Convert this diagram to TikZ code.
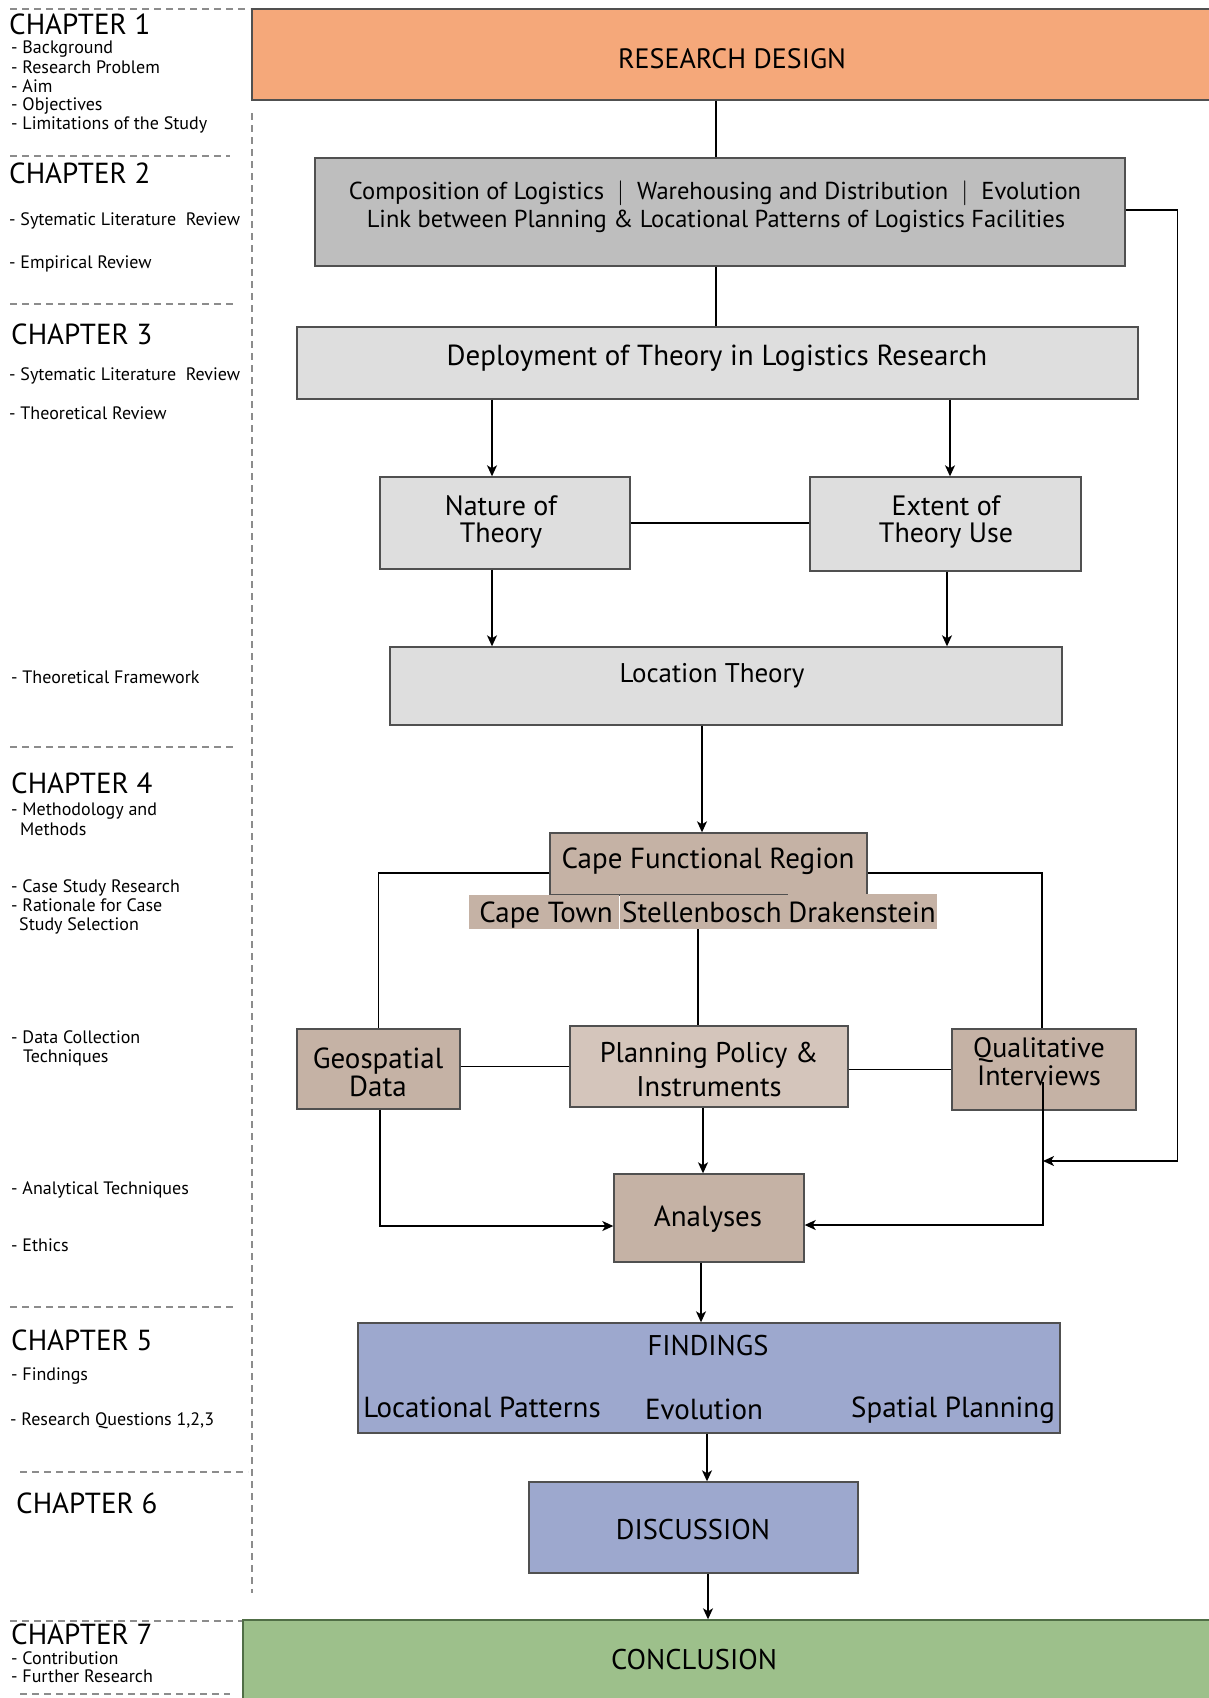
\documentclass[tikz,border=0pt]{standalone}
\usepackage{fontspec}
\setmainfont{PT Sans}
\usetikzlibrary{arrows.meta}
\definecolor{cOrange}{RGB}{245,168,122}
\definecolor{cComp}{RGB}{190,190,190}
\definecolor{cLight}{RGB}{222,222,222}
\definecolor{cTan}{RGB}{197,178,165}
\definecolor{cTanL}{RGB}{212,197,187}
\definecolor{cBlue}{RGB}{157,168,206}
\definecolor{cGreen}{RGB}{157,192,139}
\definecolor{cBorder}{RGB}{80,80,80}
\definecolor{cGBorder}{RGB}{80,110,70}
\definecolor{cDash}{RGB}{140,140,140}
\begin{document}
\begin{tikzpicture}[x=1pt,y=-1pt,
  box/.style={draw=cBorder, line width=1.4pt, inner sep=0pt, rectangle},
  subbox/.style={draw=none, inner sep=0pt, rectangle, fill=cTan},
  T/.style={inner sep=0pt, anchor=base, font=\fontsize{#1}{#1}\selectfont, yshift={-0.35*#1pt}},
  L/.style={inner sep=0pt, anchor=base west, font=\fontsize{#1}{#1}\selectfont, yshift={-0.35*#1pt}},
  conn/.style={line width=1.4pt, draw=black},
  arr/.style={conn, -{Stealth[length=11pt,width=10pt,inset=3pt]}},
  sep/.style={draw=cDash, line width=1.2pt, dash pattern=on 7pt off 5pt},
  ttl/.style={L=29},
  itm/.style={L=18}
]
\useasboundingbox (0,0) rectangle (1208,1698);
\fill[white] (0,0) rectangle (1208,1698);

% ---------- left column separators ----------
\draw[sep] (10,9) -- (250,9);
\draw[sep] (10,156) -- (230,156);
\draw[sep] (10,304) -- (235,304);
\draw[sep] (10,747) -- (233,747);
\draw[sep] (10,1307) -- (233,1307);
\draw[sep] (20,1472) -- (248,1472);
\draw[sep] (10,1621) -- (243,1621);
\draw[sep] (20,1694) -- (230,1694);
\draw[sep] (252,113) -- (252,1593);

% ---------- left column texts ----------
\node[ttl] (ch1) at (9,24) {CHAPTER 1};
\node[itm] (ch1a) at (11,47) {- Background};
\node[itm] (ch1b) at (11,67) {- Research Problem};
\node[itm] (ch1c) at (11,86) {- Aim};
\node[itm] (ch1d) at (11,104) {- Objectives};
\node[itm] (ch1e) at (11,123) {- Limitations of the Study};

\node[ttl] (ch2) at (9,173) {CHAPTER 2};
\node[itm] (ch2a) at (9,219) {- Sytematic Literature\ \ Review};
\node[itm] (ch2b) at (9,262) {- Empirical Review};

\node[ttl] (ch3) at (11,334) {CHAPTER 3};
\node[itm] (ch3a) at (9,374) {- Sytematic Literature\ \ Review};
\node[itm] (ch3b) at (9,413) {- Theoretical Review};
\node[itm] (ch3c) at (11,677) {- Theoretical Framework};

\node[ttl] (ch4) at (11,783) {CHAPTER 4};
\node[itm] (ch4a) at (11,809) {- Methodology and};
\node[itm] (ch4b) at (20,829) {Methods};
\node[itm] (ch4c) at (11,886) {- Case Study Research};
\node[itm] (ch4d) at (11,905) {- Rationale for Case};
\node[itm] (ch4e) at (19,924) {Study Selection};
\node[itm] (ch4f) at (11,1037) {- Data Collection};
\node[itm] (ch4g) at (23,1056) {Techniques};
\node[itm] (ch4h) at (11,1188) {- Analytical Techniques};
\node[itm] (ch4i) at (11,1245) {- Ethics};

\node[ttl] (ch5) at (11,1340) {CHAPTER 5};
\node[itm] (ch5a) at (11,1374) {- Findings};
\node[itm] (ch5b) at (10,1419) {- Research Questions 1,2,3};

\node[ttl] (ch6) at (16,1503) {CHAPTER 6};

\node[ttl] (ch7) at (11,1634) {CHAPTER 7};
\node[itm] (ch7a) at (11,1658) {- Contribution};
\node[itm] (ch7b) at (11,1676) {- Further Research};

% ---------- boxes ----------
\node[box, fill=cOrange, minimum width=963pt, minimum height=91pt] (rd) at (733.5,54.5) {};
\node[box, fill=cComp, minimum width=810pt, minimum height=108pt] (comp) at (720,212) {};
\node[box, fill=cLight, minimum width=841pt, minimum height=72pt] (dep) at (717.5,363) {};
\node[box, fill=cLight, minimum width=250pt, minimum height=92pt] (nat) at (505,523) {};
\node[box, fill=cLight, minimum width=271pt, minimum height=94pt] (ext) at (945.5,524) {};
\node[box, fill=cLight, minimum width=672pt, minimum height=78pt] (loc) at (726,686) {};
\node[box, fill=cTan, minimum width=317pt, minimum height=62pt] (cfr) at (708.5,864) {};
\node[subbox, minimum width=150pt, minimum height=34pt] (ct) at (543.5,912) {};
\node[subbox, minimum width=168pt, minimum height=34pt] (st) at (703.5,912) {};
\node[subbox, minimum width=149pt, minimum height=35pt] (dk) at (862.5,911.5) {};
\node[box, fill=cTan, minimum width=163pt, minimum height=80pt] (geo) at (378.5,1069) {};
\node[box, fill=cTanL, minimum width=278pt, minimum height=81pt] (plan) at (709,1066.5) {};
\node[box, fill=cTan, minimum width=184pt, minimum height=81pt] (qual) at (1044,1069.5) {};
\node[box, fill=cTan, minimum width=190pt, minimum height=88pt] (anal) at (709,1218) {};
\node[box, fill=cBlue, minimum width=702pt, minimum height=110pt] (find) at (709,1378) {};
\node[box, fill=cBlue, minimum width=329pt, minimum height=91pt] (disc) at (693.5,1527.5) {};
\node[box, draw=cGBorder, fill=cGreen, minimum width=969pt, minimum height=82pt] (concl) at (727.5,1661) {};

% ---------- box texts ----------
\node[T=28] (rdt) at (732,59) {RESEARCH DESIGN};
\node[T=24.5] (compt1) at (715,191) {Composition of Logistics \ $|$ \ Warehousing and Distribution \ $|$ \ Evolution};
\node[T=24.5] (compt2) at (716,219) {Link between Planning \& Locational Patterns of Logistics Facilities};
\node[T=29] (dept) at (717,355) {Deployment of Theory in Logistics Research};
\node[T=28] (natt1) at (501,506) {Nature of};
\node[T=28] (natt2) at (501,533) {Theory};
\node[T=28] (extt1) at (946,506) {Extent of};
\node[T=28] (extt2) at (946,533) {Theory Use};
\node[T=27] (loct) at (712,673) {Location Theory};
\node[T=29] (cfrt) at (708,858) {Cape Functional Region};
\node[T=29] (ctt) at (546,912) {Cape Town};
\node[T=29] (stt) at (702,912) {Stellenbosch};
\node[T=29] (dkt) at (862,912) {Drakenstein};
\node[T=29] (geot1) at (378,1058) {Geospatial};
\node[T=29] (geot2) at (378,1086) {Data};
\node[T=28.5] (plant1) at (709,1053) {Planning Policy \&};
\node[T=28.5] (plant2) at (709,1087) {Instruments};
\node[T=28] (qualt1) at (1039,1048) {Qualitative};
\node[T=28] (qualt2) at (1039,1076) {Interviews};
\node[T=29] (analt) at (708,1216) {Analyses};
\node[T=28.5] (findt) at (708,1346) {FINDINGS};
\node[T=29] (findt1) at (482,1407) {Locational Patterns};
\node[T=29] (findt2) at (704,1409) {Evolution};
\node[T=29] (findt3) at (953,1407) {Spatial Planning};
\node[T=28.5] (disct) at (693,1530) {DISCUSSION};
\node[T=28.5] (conclt) at (694,1660) {CONCLUSION};

% ---------- connectors ----------
\draw[conn] ([xshift=-4pt]comp.north |- rd.south) -- ([xshift=-4pt]comp.north);
\draw[conn] ([xshift=-1.5pt]dep.north |- comp.south) -- ([xshift=-1.5pt]dep.north);
\draw[arr] ([xshift=-13pt]nat.north |- dep.south) -- ([xshift=-13pt]nat.north);
\draw[arr] ([xshift=4.5pt]ext.north |- dep.south) -- ([xshift=4.5pt]ext.north);
\draw[conn] (nat.east) -- (ext.west |- nat.east);
\draw[arr] ([xshift=-13pt]nat.south) -- ([xshift=-13pt]nat.south |- loc.north);
\draw[arr] ([xshift=1.5pt]ext.south) -- ([xshift=1.5pt]ext.south |- loc.north);
\draw[arr] ([xshift=-6.5pt]cfr.north |- loc.south) -- ([xshift=-6.5pt]cfr.north);
\draw[conn] ([yshift=-9pt]cfr.west) -| (geo.north);
\draw[conn] ([yshift=-9pt]cfr.east) -| ([xshift=-2pt]qual.north);
\draw[conn] ([xshift=-5.5pt]st.south) -- ([xshift=-5.5pt]st.south |- plan.north);
\draw[conn] (geo.east |- plan.west) -- (plan.west);
\draw[conn] (plan.east |- qual.west) -- (qual.west);
\draw[arr] ([xshift=-6pt]plan.south) -- ([xshift=-6pt]plan.south |- anal.north);
\draw[arr] ([xshift=1.5pt]geo.south) |- ([yshift=-8pt]anal.west);
\coordinate (qi) at (1043,1082);
\draw[arr] (qi) |- ([yshift=-7pt]anal.east);
\coordinate (fbend) at (1043,1161);
\draw[arr] ([yshift=2pt]comp.east) -- ++(52,0) |- (fbend);
\draw[arr] ([xshift=-8pt]anal.south) -- ([xshift=-8pt]anal.south |- find.north);
\draw[arr] ([xshift=-2pt]find.south) -- ([xshift=-2pt]find.south |- disc.north);
\draw[arr] ([xshift=14.5pt]disc.south) -- ([xshift=14.5pt]disc.south |- concl.north);
\end{tikzpicture}
\end{document}
